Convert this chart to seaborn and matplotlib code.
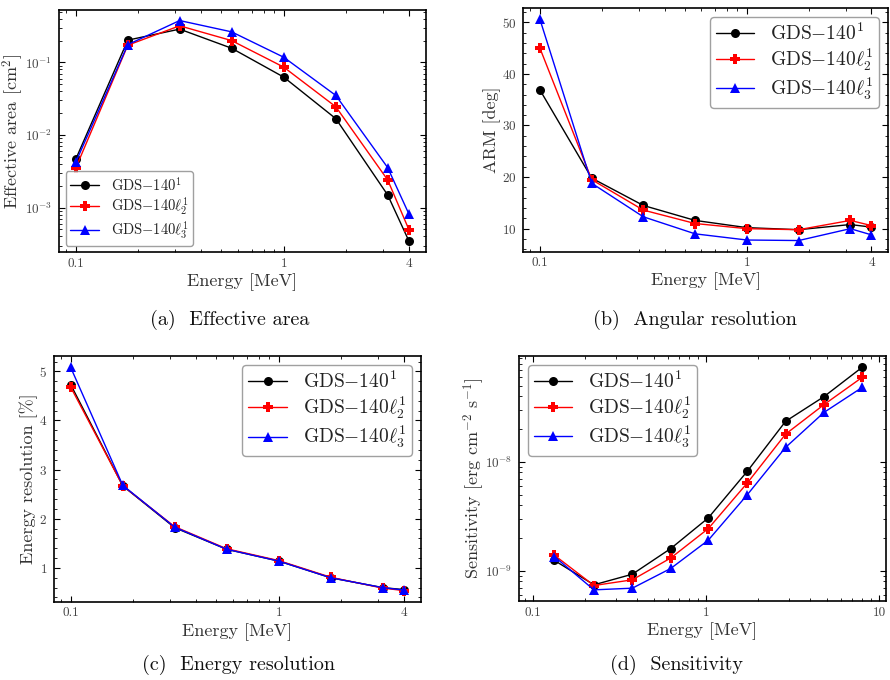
import matplotlib
matplotlib.use("Agg")
import matplotlib.pyplot as plt
import matplotlib.ticker as mticker
import numpy as np
import pandas as pd
import seaborn as sns

# ---------------------------------------------------------------- data
energy = [0.1, 0.178, 0.316, 0.562, 1.0, 1.78, 3.16, 4.0]          # MeV
energy_sens = [0.133, 0.225, 0.375, 0.625, 1.03, 1.73, 2.88, 4.8, 8.0]  # MeV

series_names = ["GDS$-$140$^1$", "GDS$-$140$\\ell_2^1$", "GDS$-$140$\\ell_3^1$"]

area_gds = [0.00462, 0.203, 0.288, 0.157, 0.0628, 0.0168, 0.00149, 0.000344]
area_l2 = [0.00348, 0.173, 0.320, 0.200, 0.0862, 0.0245, 0.00240, 0.000493]
area_l3 = [0.00420, 0.176, 0.378, 0.264, 0.118, 0.0351, 0.00355, 0.00081]

arm_gds = [36.9, 19.8, 14.5, 11.6, 10.2, 9.8, 10.8, 10.3]
arm_l2 = [45.0, 19.5, 13.6, 11.0, 10.0, 9.8, 11.6, 10.6]
arm_l3 = [50.6, 18.8, 12.3, 9.0, 7.8, 7.7, 10.0, 8.8]

eres_gds = [4.73, 2.67, 1.82, 1.38, 1.14, 0.80, 0.60, 0.56]
eres_l2 = [4.68, 2.67, 1.84, 1.39, 1.15, 0.81, 0.59, 0.54]
eres_l3 = [5.08, 2.68, 1.83, 1.38, 1.14, 0.80, 0.60, 0.55]

sens_gds = [1.245e-9, 0.743e-9, 0.93e-9, 1.60e-9, 3.06e-9, 8.2e-9, 2.36e-8, 3.98e-8, 7.43e-8]
sens_l2 = [1.39e-9, 0.732e-9, 0.826e-9, 1.31e-9, 2.44e-9, 6.4e-9, 1.80e-8, 3.36e-8, 6.0e-8]
sens_l3 = [1.35e-9, 0.668e-9, 0.692e-9, 1.05e-9, 1.91e-9, 4.99e-9, 1.36e-8, 2.85e-8, 4.85e-8]

# ---------------------------------------------------------------- style
sns.set_style("ticks")
plt.rcParams.update({
    "font.family": ["cmr10"],
    "mathtext.fontset": "cm",
    "axes.formatter.use_mathtext": True,
    "axes.unicode_minus": True,
    "xtick.direction": "in",
    "ytick.direction": "in",
    "xtick.top": True,
    "ytick.right": True,
    "xtick.major.size": 4,
    "ytick.major.size": 4,
    "xtick.minor.size": 2,
    "ytick.minor.size": 2,
    "xtick.minor.visible": True,
    "ytick.minor.visible": True,
    "xtick.major.pad": 4,
    "ytick.major.pad": 5,
    "axes.labelpad": 2.5,
    "axes.edgecolor": "black",
    "axes.linewidth": 1.2,
    "xtick.color": "black",
    "ytick.color": "black",
    "xtick.labelcolor": "#444444",
    "ytick.labelcolor": "#444444",
    "axes.labelcolor": "#333333",
    "text.color": "#222222",
    "xtick.labelsize": 9.5,
    "ytick.labelsize": 9.5,
    "axes.labelsize": 13,
    "legend.edgecolor": "#888888",
})

colors = ["black", "red", "blue"]
markers = ["o", "P", "^"]

fig = plt.figure(figsize=(8.9, 6.8), dpi=100)
ax_a = fig.add_axes([0.0663, 0.629, 0.412, 0.357])
ax_b = fig.add_axes([0.588, 0.630, 0.4098, 0.358])
ax_c = fig.add_axes([0.0607, 0.1151, 0.412, 0.361])
ax_d = fig.add_axes([0.5831, 0.1162, 0.412, 0.3603])


def draw_series(ax, x, ys):
    for name, y, c, m in zip(series_names, ys, colors, markers):
        df = pd.DataFrame({"Energy": x, "value": y})
        sns.lineplot(data=df, x="Energy", y="value", ax=ax, color=c,
                     marker=m, markersize=6.5, markeredgewidth=0,
                     linewidth=1.0, label=name, sort=False)


def energy_axis(ax, ticks, labels):
    ax.set_xscale("log")
    ax.set_xticks(ticks)
    ax.xaxis.set_major_formatter(mticker.FixedFormatter(labels))
    ax.xaxis.set_minor_formatter(mticker.NullFormatter())
    ax.set_xlabel("Energy [MeV]")


def add_legend(ax, loc, size, spacing):
    ax.legend(loc=loc, fontsize=size, fancybox=True, labelspacing=spacing,
              borderpad=0.3, handlelength=2.0, handletextpad=0.8,
              borderaxespad=0.45)


# (a) effective area
draw_series(ax_a, energy, [area_gds, area_l2, area_l3])
ax_a.set_yscale("log")
ax_a.yaxis.set_minor_formatter(mticker.NullFormatter())
energy_axis(ax_a, [0.1, 1, 4], ["0.1", "1", "4"])
ax_a.set_ylabel("Effective area [cm$^2$]")
ax_a.yaxis.set_label_coords(-0.090, 0.5)
add_legend(ax_a, "lower left", 10.5, 0.15)

# (b) angular resolution
draw_series(ax_b, energy, [arm_gds, arm_l2, arm_l3])
energy_axis(ax_b, [0.1, 1, 4], ["0.1", "1", "4"])
ax_b.set_yticks([10, 20, 30, 40, 50])
ax_b.yaxis.set_minor_locator(mticker.AutoMinorLocator(5))
ax_b.set_ylabel("ARM [deg]")
ax_b.yaxis.set_label_coords(-0.062, 0.5)
add_legend(ax_b, "upper right", 14, 0.15)

# (c) energy resolution
draw_series(ax_c, energy, [eres_gds, eres_l2, eres_l3])
energy_axis(ax_c, [0.1, 1, 4], ["0.1", "1", "4"])
ax_c.set_yticks([1, 2, 3, 4, 5])
ax_c.yaxis.set_minor_locator(mticker.AutoMinorLocator(5))
ax_c.set_ylabel("Energy resolution [%]")
ax_c.yaxis.set_label_coords(-0.043, 0.5)
add_legend(ax_c, "upper right", 14, 0.15)

# (d) sensitivity
draw_series(ax_d, energy_sens, [sens_gds, sens_l2, sens_l3])
ax_d.set_yscale("log")
ax_d.yaxis.set_minor_formatter(mticker.NullFormatter())
energy_axis(ax_d, [0.1, 1, 10], ["0.1", "1", "10"])
ax_d.set_xlim(0.083, 10.9)
ax_d.set_ylabel("Sensitivity [erg cm$^{-2}$ s$^{-1}$]")
ax_d.yaxis.set_label_coords(-0.087, 0.5)
add_legend(ax_d, "upper left", 14, 0.15)

for ax in (ax_a, ax_b, ax_c, ax_d):
    for side in ("top", "right", "bottom", "left"):
        ax.spines[side].set_visible(True)
    ax.tick_params(which="both", top=True, right=True)

# sub-figure captions
cap = dict(fontsize=14.5, ha="center", va="center", color="#111111")
fig.text(230 / 890, 1 - 320 / 680, "(a)  Effective area", **cap)
fig.text(695 / 890, 1 - 320 / 680, "(b)  Angular resolution", **cap)
fig.text(238 / 890, 1 - 665 / 680, "(c)  Energy resolution", **cap)
fig.text(677 / 890, 1 - 665 / 680, "(d)  Sensitivity", **cap)

fig.savefig("out.png", dpi=100)
